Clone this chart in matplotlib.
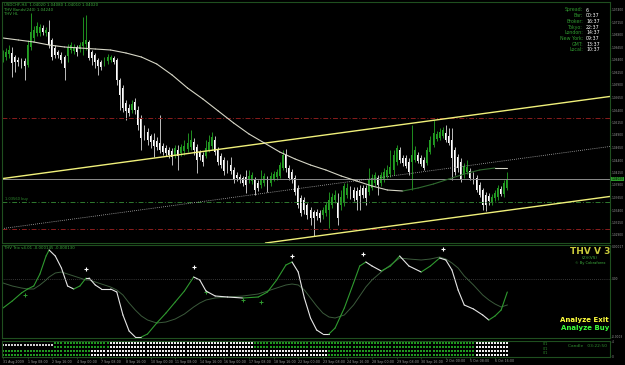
import numpy as np
import matplotlib
matplotlib.use("Agg")
import matplotlib.pyplot as plt

# candele H4 USDCHF, indice 0 = 31 Aug 2009 00:00
opens = [1.0640, 1.0646, 1.0652, 1.0654, 1.0646, 1.0640, 1.0640, 1.0638, 1.0630, 1.0666,
         1.0684, 1.0694, 1.0694, 1.0704, 1.0694, 1.0696, 1.0680, 1.0664, 1.0656, 1.0650,
         1.0646, 1.0648, 1.0660, 1.0658, 1.0666, 1.0662, 1.0668, 1.0672, 1.0676, 1.0656,
         1.0650, 1.0640, 1.0636, 1.0634, 1.0638, 1.0640, 1.0644, 1.0640, 1.0600, 1.0584,
         1.0554, 1.0544, 1.0540, 1.0556, 1.0540, 1.0522, 1.0504, 1.0496, 1.0488, 1.0480,
         1.0478, 1.0474, 1.0468, 1.0464, 1.0460, 1.0458, 1.0450, 1.0460, 1.0454, 1.0458,
         1.0462, 1.0466, 1.0476, 1.0466, 1.0456, 1.0450, 1.0448, 1.0460, 1.0468, 1.0480,
         1.0460, 1.0448, 1.0440, 1.0434, 1.0430, 1.0420, 1.0410, 1.0406, 1.0404, 1.0406,
         1.0400, 1.0398, 1.0400, 1.0394, 1.0390, 1.0394, 1.0400, 1.0394, 1.0402, 1.0406,
         1.0408, 1.0424, 1.0450, 1.0424, 1.0416, 1.0404, 1.0384, 1.0364, 1.0360, 1.0350,
         1.0340, 1.0336, 1.0336, 1.0334, 1.0330, 1.0334, 1.0340, 1.0350, 1.0360, 1.0354,
         1.0350, 1.0354, 1.0370, 1.0382, 1.0380, 1.0378, 1.0380, 1.0384, 1.0384, 1.0376,
         1.0384, 1.0394, 1.0404, 1.0394, 1.0400, 1.0408, 1.0412, 1.0420, 1.0436, 1.0460,
         1.0444, 1.0444, 1.0436, 1.0436, 1.0440, 1.0450, 1.0444, 1.0440, 1.0434, 1.0456,
         1.0470, 1.0482, 1.0484, 1.0488, 1.0494, 1.0488, 1.0480, 1.0460, 1.0446, 1.0436,
         1.0410, 1.0416, 1.0418, 1.0410, 1.0404, 1.0390, 1.0380, 1.0370, 1.0368, 1.0356,
         1.0364, 1.0366, 1.0382, 1.0372, 1.0384]
highs = [1.0660, 1.0664, 1.0670, 1.0666, 1.0650, 1.0646, 1.0644, 1.0644, 1.0680, 1.0734,
         1.0708, 1.0716, 1.0712, 1.0710, 1.0706, 1.0720, 1.0684, 1.0670, 1.0660, 1.0656,
         1.0650, 1.0672, 1.0676, 1.0672, 1.0670, 1.0676, 1.0726, 1.0730, 1.0680, 1.0660,
         1.0654, 1.0644, 1.0640, 1.0646, 1.0652, 1.0650, 1.0648, 1.0644, 1.0604, 1.0590,
         1.0560, 1.0552, 1.0560, 1.0564, 1.0548, 1.0530, 1.0510, 1.0504, 1.0492, 1.0494,
         1.0486, 1.0530, 1.0474, 1.0470, 1.0466, 1.0464, 1.0470, 1.0470, 1.0472, 1.0480,
         1.0494, 1.0500, 1.0484, 1.0472, 1.0460, 1.0456, 1.0480, 1.0490, 1.0496, 1.0488,
         1.0466, 1.0454, 1.0446, 1.0440, 1.0446, 1.0426, 1.0416, 1.0412, 1.0408, 1.0420,
         1.0420, 1.0416, 1.0406, 1.0400, 1.0420, 1.0414, 1.0408, 1.0416, 1.0418, 1.0422,
         1.0436, 1.0460, 1.0462, 1.0430, 1.0422, 1.0410, 1.0390, 1.0370, 1.0366, 1.0354,
         1.0346, 1.0340, 1.0342, 1.0340, 1.0346, 1.0356, 1.0376, 1.0374, 1.0380, 1.0374,
         1.0380, 1.0394, 1.0394, 1.0388, 1.0386, 1.0386, 1.0390, 1.0390, 1.0390, 1.0424,
         1.0412, 1.0416, 1.0410, 1.0416, 1.0424, 1.0430, 1.0460, 1.0460, 1.0470, 1.0466,
         1.0450, 1.0450, 1.0444, 1.0510, 1.0468, 1.0456, 1.0450, 1.0446, 1.0466, 1.0488,
         1.0520, 1.0498, 1.0504, 1.0506, 1.0510, 1.0504, 1.0504, 1.0466, 1.0452, 1.0444,
         1.0434, 1.0440, 1.0424, 1.0416, 1.0410, 1.0396, 1.0384, 1.0376, 1.0374, 1.0372,
         1.0380, 1.0390, 1.0388, 1.0400, 1.0416]
lows = [1.0636, 1.0640, 1.0644, 1.0606, 1.0616, 1.0628, 1.0624, 1.0600, 1.0626, 1.0660,
        1.0676, 1.0688, 1.0688, 1.0690, 1.0688, 1.0664, 1.0640, 1.0644, 1.0644, 1.0634,
        1.0600, 1.0636, 1.0654, 1.0652, 1.0648, 1.0656, 1.0650, 1.0660, 1.0640, 1.0630,
        1.0624, 1.0610, 1.0620, 1.0628, 1.0632, 1.0636, 1.0632, 1.0590, 1.0540, 1.0536,
        1.0520, 1.0528, 1.0534, 1.0532, 1.0500, 1.0460, 1.0480, 1.0470, 1.0464, 1.0446,
        1.0460, 1.0454, 1.0450, 1.0448, 1.0444, 1.0430, 1.0444, 1.0420, 1.0448, 1.0450,
        1.0456, 1.0460, 1.0450, 1.0414, 1.0440, 1.0428, 1.0444, 1.0456, 1.0460, 1.0450,
        1.0430, 1.0424, 1.0410, 1.0414, 1.0412, 1.0394, 1.0398, 1.0394, 1.0388, 1.0374,
        1.0394, 1.0392, 1.0370, 1.0378, 1.0384, 1.0388, 1.0376, 1.0388, 1.0398, 1.0400,
        1.0404, 1.0420, 1.0416, 1.0400, 1.0394, 1.0370, 1.0344, 1.0328, 1.0332, 1.0322,
        1.0310, 1.0288, 1.0320, 1.0316, 1.0322, 1.0328, 1.0304, 1.0344, 1.0354, 1.0310,
        1.0340, 1.0348, 1.0364, 1.0362, 1.0358, 1.0340, 1.0340, 1.0364, 1.0350, 1.0370,
        1.0380, 1.0388, 1.0370, 1.0388, 1.0396, 1.0404, 1.0406, 1.0410, 1.0430, 1.0434,
        1.0428, 1.0424, 1.0410, 1.0380, 1.0436, 1.0434, 1.0428, 1.0420, 1.0430, 1.0452,
        1.0466, 1.0478, 1.0480, 1.0484, 1.0476, 1.0470, 1.0400, 1.0410, 1.0416, 1.0396,
        1.0404, 1.0412, 1.0400, 1.0392, 1.0376, 1.0366, 1.0340, 1.0338, 1.0350, 1.0350,
        1.0358, 1.0360, 1.0368, 1.0366, 1.0380]
closes = [1.0650, 1.0656, 1.0660, 1.0634, 1.0636, 1.0636, 1.0632, 1.0628, 1.0670, 1.0696,
          1.0700, 1.0708, 1.0706, 1.0696, 1.0700, 1.0670, 1.0646, 1.0650, 1.0650, 1.0640,
          1.0624, 1.0666, 1.0670, 1.0666, 1.0656, 1.0670, 1.0676, 1.0680, 1.0644, 1.0644,
          1.0636, 1.0628, 1.0626, 1.0640, 1.0646, 1.0646, 1.0636, 1.0600, 1.0570, 1.0544,
          1.0538, 1.0534, 1.0552, 1.0540, 1.0510, 1.0484, 1.0488, 1.0480, 1.0476, 1.0468,
          1.0466, 1.0460, 1.0456, 1.0454, 1.0450, 1.0446, 1.0464, 1.0448, 1.0466, 1.0468,
          1.0474, 1.0480, 1.0460, 1.0440, 1.0446, 1.0436, 1.0464, 1.0476, 1.0486, 1.0456,
          1.0436, 1.0430, 1.0418, 1.0420, 1.0418, 1.0400, 1.0404, 1.0400, 1.0394, 1.0390,
          1.0408, 1.0410, 1.0380, 1.0384, 1.0400, 1.0408, 1.0380, 1.0408, 1.0412, 1.0416,
          1.0430, 1.0450, 1.0424, 1.0404, 1.0400, 1.0376, 1.0350, 1.0334, 1.0340, 1.0330,
          1.0324, 1.0324, 1.0328, 1.0324, 1.0340, 1.0350, 1.0360, 1.0366, 1.0370, 1.0324,
          1.0366, 1.0388, 1.0384, 1.0368, 1.0364, 1.0360, 1.0368, 1.0370, 1.0364, 1.0400,
          1.0404, 1.0410, 1.0390, 1.0410, 1.0416, 1.0420, 1.0426, 1.0450, 1.0464, 1.0440,
          1.0434, 1.0428, 1.0416, 1.0450, 1.0460, 1.0438, 1.0432, 1.0424, 1.0460, 1.0480,
          1.0494, 1.0492, 1.0496, 1.0500, 1.0480, 1.0474, 1.0444, 1.0416, 1.0424, 1.0400,
          1.0428, 1.0426, 1.0404, 1.0396, 1.0380, 1.0370, 1.0350, 1.0350, 1.0358, 1.0366,
          1.0374, 1.0384, 1.0372, 1.0394, 1.0402]

# media mobile lenta (ogni 5 candele)
ma_idx = [0, 5, 10, 15, 20, 25, 30, 35, 40, 45, 50, 55, 60, 65, 70, 75, 80, 85, 90, 95,
          100, 105, 110, 115, 120, 125, 130, 135, 140, 145, 150, 155, 160, 164]
ma_values = [1.0684, 1.0680, 1.0676, 1.0670, 1.0666, 1.0664, 1.0662, 1.0660, 1.0654, 1.0646,
             1.0632, 1.0610, 1.0584, 1.0562, 1.0538, 1.0514, 1.0492, 1.0474, 1.0456, 1.0442,
             1.0430, 1.0420, 1.0408, 1.0398, 1.0388, 1.0380, 1.0378, 1.0384, 1.0392, 1.0402,
             1.0412, 1.0420, 1.0424, 1.0424]

# canale (due punti di ancoraggio)
chan_idx = [0, 160]
chan_upper = [1.0403, 1.0536]
chan_mid = [1.0303, 1.0436]
chan_lower = [1.0203, 1.0336]
red_levels = [1.0524, 1.0302]
buy_level = 1.0356
bid = 1.0402

# indicatore THV Trix (unita 1e-6)
trix_idx = [0, 3, 6, 8, 10, 12, 14, 15, 17, 19, 21, 23, 25, 27, 28, 30, 32, 35, 37, 39,
            41, 43, 45, 47, 50, 53, 56, 59, 62, 64, 66, 69, 73, 78, 83, 86, 89, 92, 94, 96,
            98, 100, 102, 104, 106, 108, 111, 114, 116, 118, 120, 123, 126, 129, 132, 136, 139, 142, 144, 146,
            148, 150, 153, 156, 158, 160, 162, 164]
trix_fast = [-145, -110, -70, -50, -35, 25, 115, 145, 115, 55, -35, -50, -35, 5, 5, -30, -50, -50, -65, -180,
             -260, -290, -290, -275, -220, -170, -115, -60, 10, -5, -60, -85, -90, -95, -90, -65, -5, 70, 85, 35,
             -95, -195, -255, -275, -275, -245, -145, -20, 65, 85, 65, 40, 65, 115, 65, 35, 65, 105, 95, 45,
             -55, -130, -150, -180, -205, -185, -155, -65]
trix_slow = [-20, -35, -45, -50, -50, -30, -5, 10, 30, 35, 25, 15, 5, -5, -5, -15, -25, -40, -55, -80,
             -120, -155, -185, -205, -220, -215, -200, -175, -140, -120, -105, -95, -90, -85, -75, -60, -45, -30, -25, -30,
             -55, -95, -135, -170, -190, -195, -180, -130, -85, -40, -5, 35, 70, 105, 100, 95, 100, 110, 100, 80,
             55, 15, -30, -80, -105, -125, -140, -130]
sell_idx = [27, 62, 94, 117, 143]
sell_val = [30, 40, 95, 105, 130]
buy_idx = [7, 66, 78, 84]
buy_val = [-70, -55, -95, -105]

# pannello segnali (segmenti per riga)
row1_edges = [0, 17, 35, 82, 154, 165]
row1_cols = ["dim", "g", "w", "g", "w"]
row2_edges = [0, 29, 106, 154, 165]
row2_cols = ["g", "w", "g", "w"]

time_labels = ["31 Aug 2009", "1 Sep 08:00", "2 Sep 16:00", "4 Sep 00:00", "7 Sep 08:00",
               "8 Sep 16:00", "10 Sep 00:00", "11 Sep 08:00", "14 Sep 16:00", "16 Sep 00:00",
               "17 Sep 08:00", "18 Sep 16:00", "22 Sep 00:00", "23 Sep 08:00", "24 Sep 16:00",
               "28 Sep 00:00", "29 Sep 08:00", "30 Sep 16:00", "2 Oct 00:00", "5 Oct 08:00", "6 Oct 16:00"]

info_names = ["Spread:", "Bar:", "Broker:", "Tokyo:", "London:", "New York:", "GMT:", "Local:"]
info_values = ["6", "00:37", "16:37", "22:37", "14:37", "09:37", "13:37", "10:37"]

W, H = 625, 365
GRID = "#1f4f1f"
TXT_GREEN = "#3caa3c"
LBL = "#9a9a9a"


def box(top, bottom, left=2, right=610):
    return [left / W, 1 - bottom / H, (right - left) / W, (bottom - top) / H]


def ftext(x, y, s, **kw):
    fig.text(x / W, 1 - y / H, s, **kw)


fig = plt.figure(figsize=(6.25, 3.65), dpi=100, facecolor="black")
ax = fig.add_axes(box(2, 243))
ax_ind = fig.add_axes(box(245, 338))
ax_bar = fig.add_axes(box(341, 357))

for a in (ax, ax_ind, ax_bar):
    a.set_facecolor("black")
    a.set_xlim(-0.33, 197.4)
    for sp in a.spines.values():
        sp.set_color(GRID)
        sp.set_linewidth(0.8)
    a.tick_params(axis="both", colors=GRID, labelcolor=LBL, labelsize=2.1,
                  length=1.0, width=0.5, pad=0.3)
    a.tick_params(axis="y", left=False, labelleft=False, right=True, labelright=True)
    a.tick_params(axis="x", bottom=False, labelbottom=False)

# ---- pannello prezzi ----
o = np.array(opens)
h = np.array(highs)
l = np.array(lows)
c = np.array(closes)
idx = np.arange(len(o))
up = c >= o

ax.vlines(idx[up], l[up], h[up], color="#1f8f1f", lw=0.7)
ax.vlines(idx[~up], l[~up], h[~up], color="#bdbdbd", lw=0.7)
ax.bar(idx[up], c[up] - o[up], bottom=o[up], width=0.62, color="#23a023", linewidth=0)
ax.bar(idx[~up], o[~up] - c[~up], bottom=c[~up], width=0.62, color="white", linewidth=0)

for lev in red_levels:
    ax.axhline(lev, color="#8a1d1d", lw=0.7, linestyle=(0, (5, 2, 1, 2)))
ax.axhline(buy_level, color="#2f7a2f", lw=0.7, linestyle=(0, (5, 2, 1, 2)))
ax.axhline(bid, color="#8c8c8c", lw=0.7)
ax.text(0.6, buy_level + 0.0002, "1.03560 buy", color="#2f8f2f", fontsize=2.6, va="bottom")

ax.axline((chan_idx[0], chan_upper[0]), (chan_idx[1], chan_upper[1]), color="#f0f07a", lw=1.0)
ax.axline((chan_idx[0], chan_lower[0]), (chan_idx[1], chan_lower[1]), color="#f0f07a", lw=1.0)
ax.axline((chan_idx[0], chan_mid[0]), (chan_idx[1], chan_mid[1]), color="#b8b8b8", lw=0.6,
          linestyle=(0, (1, 1.5)))

# media mobile: chiara quando scende, verde scuro quando sale
for k in range(len(ma_idx) - 1):
    col = "#d6d6c6" if ma_values[k + 1] <= ma_values[k] else "#2f6a2f"
    ax.plot(ma_idx[k:k + 2], ma_values[k:k + 2], color=col, lw=0.8, solid_capstyle="round")

ax.set_ylim(1.0274, 1.0756)
ticks = [1.0740 - 0.0025 * k for k in range(19)]
ax.set_yticks(ticks)
ax.set_yticklabels([f"{t:.5f}" for t in ticks])
ax.text(1.002, (bid - 1.0274) / (1.0756 - 1.0274), f"{bid:.5f}", transform=ax.transAxes,
        fontsize=2.1, color="black", va="center", ha="left",
        bbox=dict(boxstyle="square,pad=0.12", fc="#2a9a2a", ec="none"))

ax.text(0.003, 0.995, "USDCHF,H4  1.04020 1.04080 1.04010 1.04020", transform=ax.transAxes,
        fontsize=2.8, color=TXT_GREEN, va="top")
ax.text(0.003, 0.977, "THV Bands(240) 1.04240", transform=ax.transAxes,
        fontsize=2.8, color=TXT_GREEN, va="top")
ax.text(0.003, 0.959, "THV HL", transform=ax.transAxes, fontsize=2.8, color=TXT_GREEN, va="top")

for n, (name, val) in enumerate(zip(info_names, info_values)):
    y = 10 + n * 5.7
    ftext(583, y, name, fontsize=3.4, color="#2f9a2f", ha="right", va="center")
    ftext(586, y, val, fontsize=3.4, color="white", ha="left", va="center")

# ---- pannello indicatore ----
tf = np.array(trix_fast) * 1e-6
ts = np.array(trix_slow) * 1e-6
ax_ind.plot(trix_idx, ts, color="#3b5a3b", lw=0.7)
for k in range(len(trix_idx) - 1):
    col = "#2f9a2f" if tf[k + 1] > tf[k] else "#e6e6e6"
    ax_ind.plot(trix_idx[k:k + 2], tf[k:k + 2], color=col, lw=0.8, solid_capstyle="round")
ax_ind.axhline(0, color="#6a6a6a", lw=0.5, linestyle=(0, (1, 2)))
ax_ind.scatter(sell_idx, np.array(sell_val) * 1e-6 + 0.00002, marker="+", s=10, color="white", lw=0.8)
ax_ind.scatter(buy_idx, np.array(buy_val) * 1e-6 - 0.00001, marker="+", s=7, color="#2f9a2f", lw=0.7)
ax_ind.set_ylim(-0.000295, 0.00017)
ax_ind.set_yticks([0.000165, 0.0, -0.00029])
ax_ind.set_yticklabels(["0.00017", "0.00", "-0.0003"])
ax_ind.text(0.003, 0.985, "THV Trix v4.01 -0.000145 -0.000130", transform=ax_ind.transAxes,
            fontsize=2.8, color=TXT_GREEN, va="top")

ftext(590, 252, "THV V 3", fontsize=6.5, fontweight="bold", color="#c8c83a", ha="center", va="center")
ftext(590, 258, "(2)/(VS)", fontsize=3.0, color="#3caa3c", ha="center", va="center")
ftext(590, 263, "© By Cobraforex", fontsize=2.6, color="#3caa3c", ha="center", va="center")
ftext(609, 320, "Analyze Exit", fontsize=5, fontweight="bold", color="#ffff3c", ha="right", va="center")
ftext(609, 328, "Analyze Buy", fontsize=5, fontweight="bold", color="#3cff3c", ha="right", va="center")

# ---- pannello segnali ----
colmap = {"g": "#1f9a1f", "w": "#f0f0f0", "dim": "#d0d0d0"}
for edges, cols, yrow in ((row1_edges, row1_cols, 1.5), (row2_edges, row2_cols, 0.5)):
    for a0, a1, cname in zip(edges[:-1], edges[1:], cols):
        xs = np.arange(a0, a1)
        if cname == "dim":
            ax_bar.scatter(xs, np.full(len(xs), yrow), marker="s", s=0.9, color=colmap[cname], lw=0)
        else:
            for dy in (-0.22, 0.22):
                ax_bar.scatter(xs, np.full(len(xs), yrow + dy), marker="s", s=1.1,
                               color=colmap[cname], lw=0)
ax_bar.set_ylim(0, 2)
ax_bar.set_yticks([1.9, 0.1])
ax_bar.set_yticklabels(["4", "0"])
ax_bar.set_xticks(np.arange(len(time_labels)) * 8)
ax_bar.set_xticklabels(time_labels, ha="left")
ax_bar.tick_params(axis="x", bottom=True, labelbottom=True, length=1.5)
for lab in ax_bar.get_xticklabels():
    lab.set_fontsize(2.3)
ax_bar.text(0.893, 0.82, "0/1", transform=ax_bar.transAxes, fontsize=2.4, color="#2f8f2f", ha="center", va="center")
ax_bar.text(0.893, 0.52, "0/1", transform=ax_bar.transAxes, fontsize=2.4, color="#2f8f2f", ha="center", va="center")
ax_bar.text(0.893, 0.22, "0/1", transform=ax_bar.transAxes, fontsize=2.4, color="#2f8f2f", ha="center", va="center")
ax_bar.text(0.995, 0.7, "Candle   03:22:50", transform=ax_bar.transAxes, fontsize=3.2,
            color="#2f8f2f", ha="right", va="center")

fig.savefig("out.png", dpi=100, facecolor="black")
